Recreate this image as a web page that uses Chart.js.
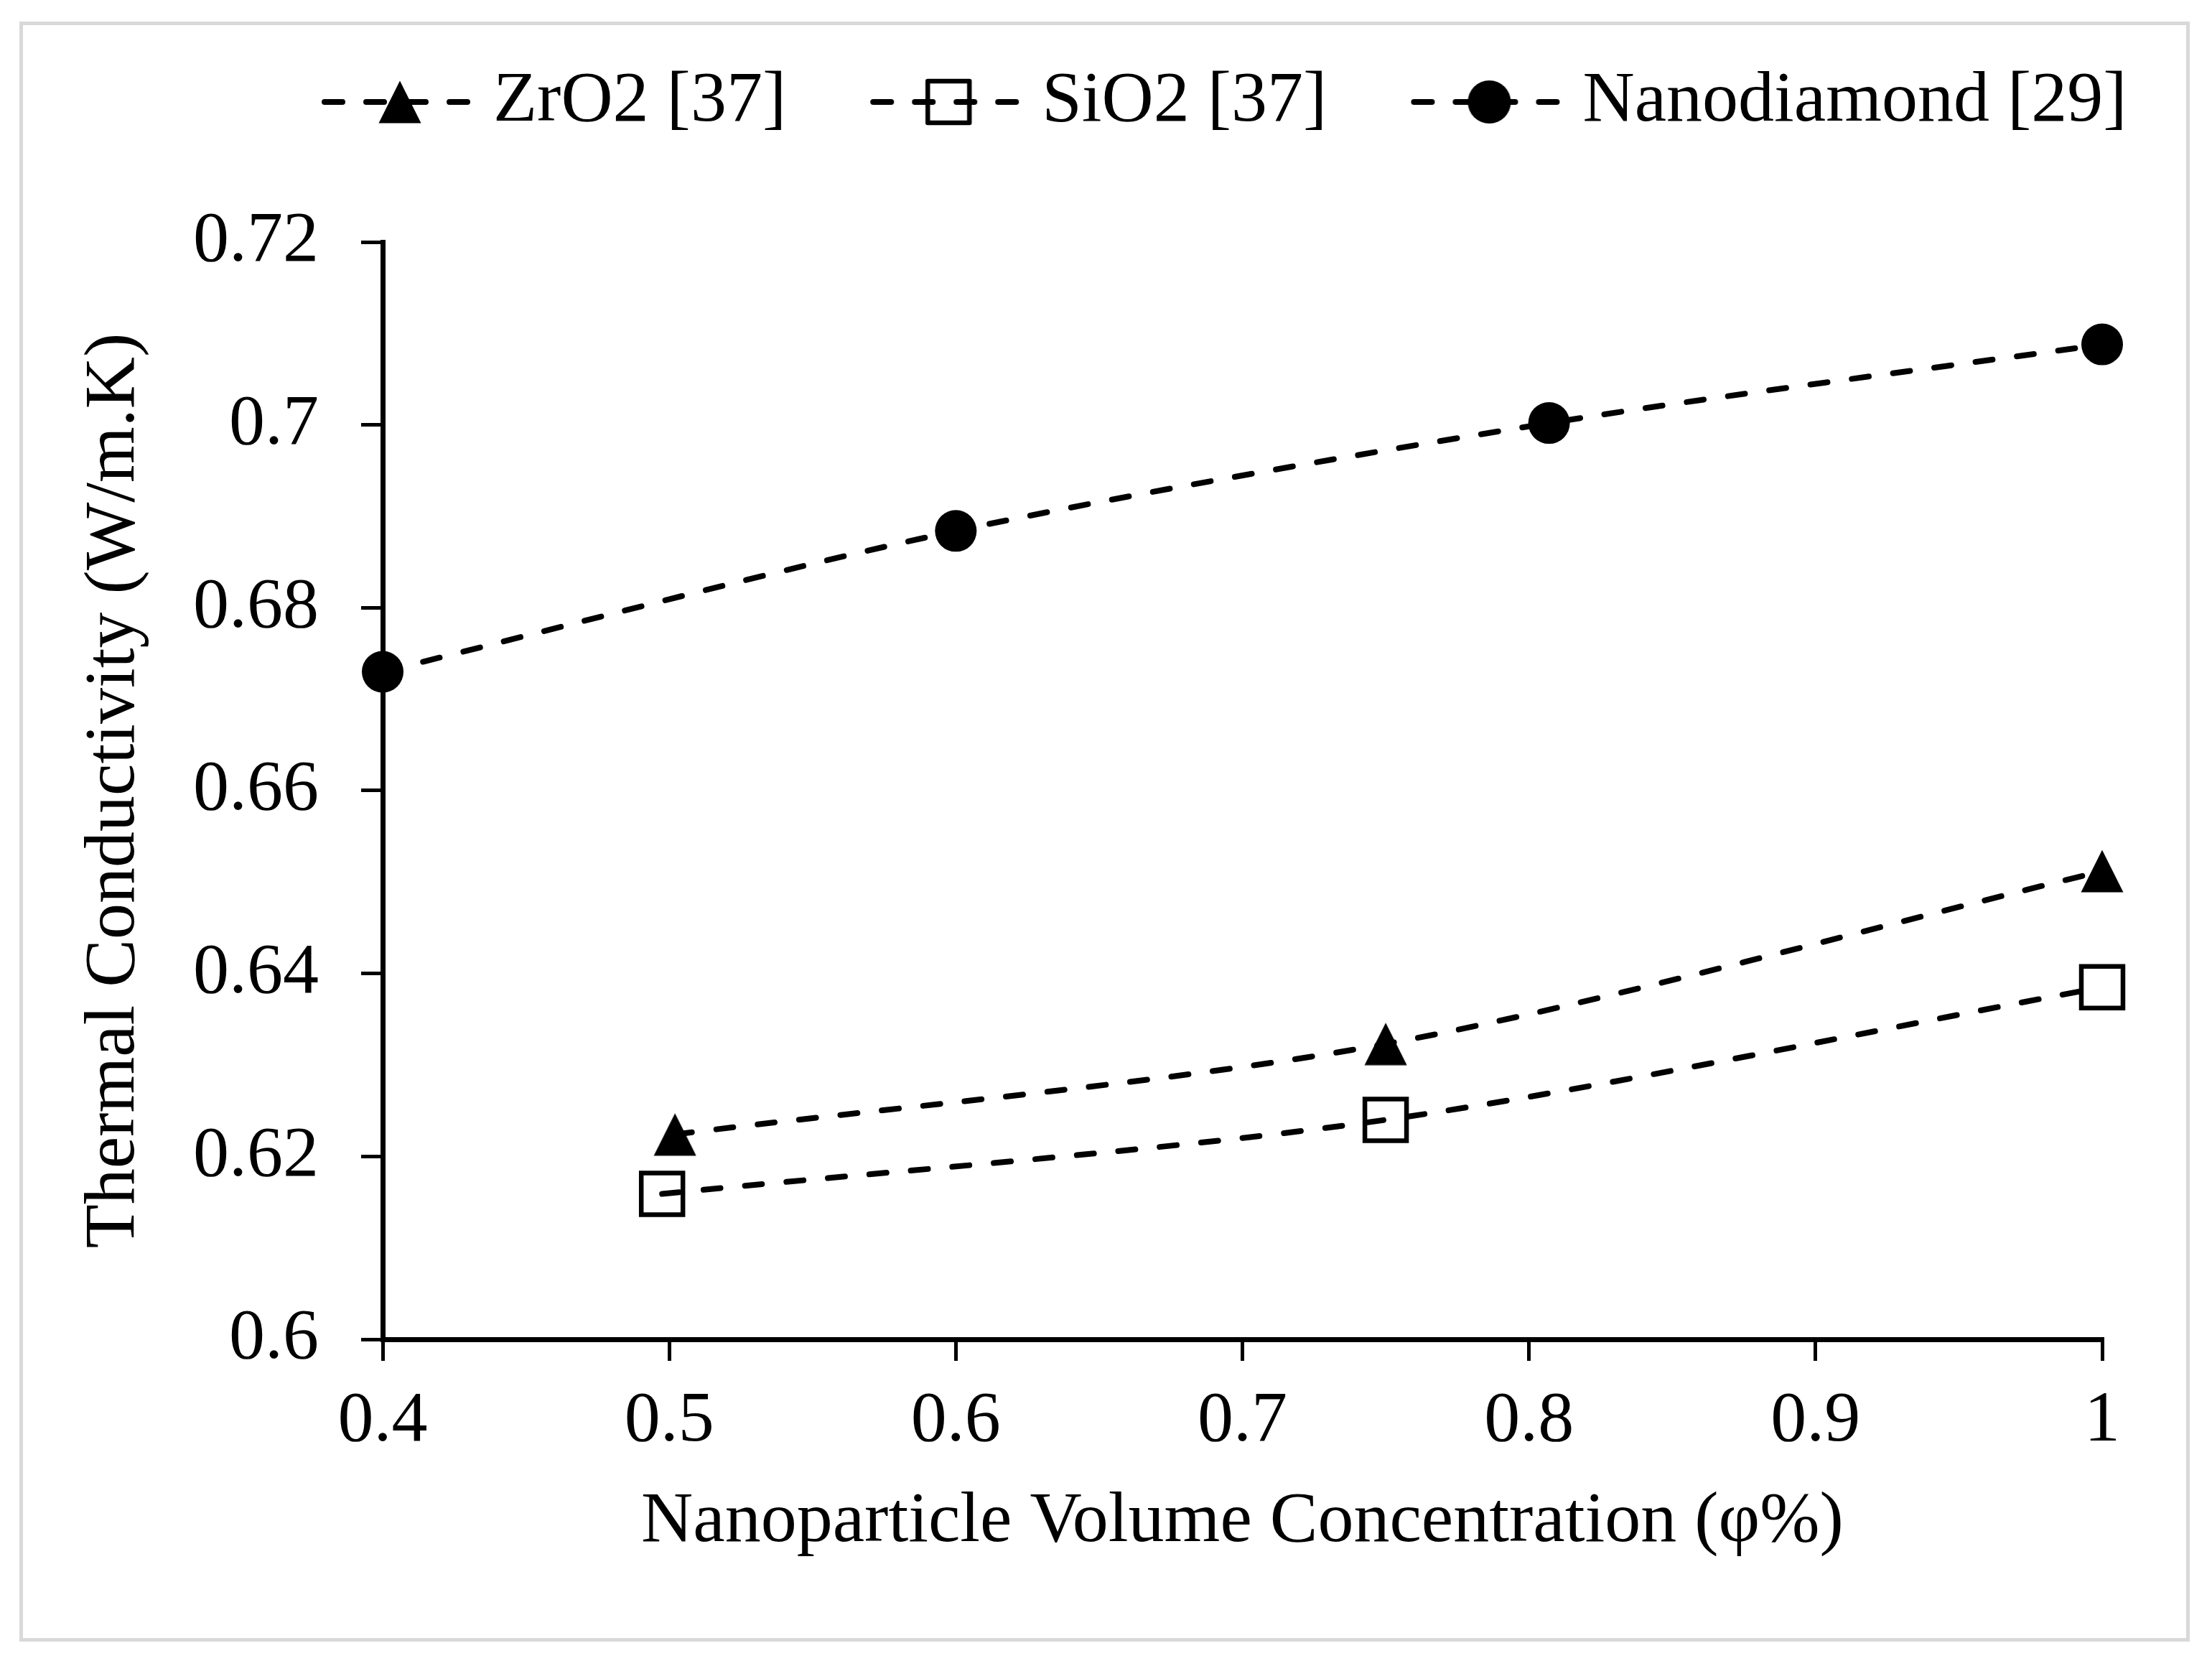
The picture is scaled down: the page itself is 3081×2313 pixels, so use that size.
<!DOCTYPE html>
<html lang="en">
<head>
<meta charset="UTF-8" />
<title>Thermal Conductivity vs Volume Concentration</title>
<style>
    body {
        margin: 0;
        background: #fff;
    }
    #chart {
        position: absolute;
        left: 0;
        top: 0;
    }
    #frame {
        position: absolute;
        left: 27px;
        top: 30px;
        width: 3023px;
        height: 2256px;
        border: 5px solid #d9d9d9;
        box-sizing: border-box;
        pointer-events: none;
    }
</style>
<script src="https://cdn.jsdelivr.net/npm/chart.js"></script>
</head>
<body>
<canvas id="chart" width="3081" height="2313"></canvas>
<div id="frame"></div>
<script>
    // values
    const seriesNames = ["ZrO2 [37]", "SiO2 [37]", "Nanodiamond [29]"];
    const zro2X = [0.502, 0.75, 1.0];
    const zro2Y = [0.6224, 0.6323, 0.6512];
    const sio2X = [0.4975, 0.75, 1.0];
    const sio2Y = [0.6159, 0.624, 0.6385];
    const diamondX = [0.4, 0.6, 0.807, 1.0];
    const diamondY = [0.673, 0.6884, 0.7002, 0.7088];
    const xTicks = [0.4, 0.5, 0.6, 0.7, 0.8, 0.9, 1];
    const yTicks = [0.6, 0.62, 0.64, 0.66, 0.68, 0.7, 0.72];

    const LINE_W = 8;
    const DASH = [24, 34];

    function pts(xs, ys) {
        return xs.map((x, i) => ({ x: x, y: ys[i] }));
    }

    function drawMarker(ctx, kind, cx, cy) {
        ctx.save();
        ctx.fillStyle = "#000";
        ctx.strokeStyle = "#000";
        if (kind === "triangle") {
            ctx.beginPath();
            ctx.moveTo(cx, cy - 29.5);
            ctx.lineTo(cx + 29.5, cy + 29.5);
            ctx.lineTo(cx - 29.5, cy + 29.5);
            ctx.closePath();
            ctx.fill();
        } else if (kind === "square") {
            ctx.lineWidth = 6.5;
            ctx.lineJoin = "round";
            ctx.strokeRect(cx - 29, cy - 29, 58, 58);
        } else {
            ctx.beginPath();
            ctx.arc(cx, cy, 30, 0, Math.PI * 2);
            ctx.fill();
        }
        ctx.restore();
    }

    function triangleImage() {
        const c = document.createElement("canvas");
        c.width = 60;
        c.height = 60;
        drawMarker(c.getContext("2d"), "triangle", 30, 30);
        return c;
    }

    // dashed line with the marker in the middle, blank space on the left
    function legendIcon(kind) {
        const c = document.createElement("canvas");
        c.width = 326;
        c.height = 72;
        const ctx = c.getContext("2d");
        ctx.strokeStyle = "#000";
        ctx.lineWidth = LINE_W;
        ctx.lineCap = "round";
        ctx.setLineDash([25, 33]);
        ctx.beginPath();
        ctx.moveTo(121, 36);
        ctx.lineTo(320, 36);
        ctx.stroke();
        ctx.setLineDash([]);
        drawMarker(ctx, kind, 226, 36);
        return c;
    }

    const legendIcons = [legendIcon("triangle"), legendIcon("square"), legendIcon("circle")];

    const legendSpacing = {
        id: "legendSpacing",
        beforeInit(chart) {
            const legend = chart.legend;
            if (!legend) return;
            const fit = legend.fit;
            legend.fit = function () {
                fit.call(this);
                this.height += 135;
            };
        },
        afterLayout(chart) {
            chart.legend.left += 221;
            chart.legend.right += 221;
        },
    };

    Chart.defaults.font.family = "'Liberation Serif', 'Times New Roman', serif";
    Chart.defaults.font.size = 100;
    Chart.defaults.color = "#000";

    const common = {
        borderColor: "#000",
        borderWidth: LINE_W,
        borderDash: DASH,
        borderCapStyle: "round",
        tension: 0.3,
        fill: false,
        clip: false,
    };

    const axisGrid = {
        display: true,
        drawOnChartArea: false,
        drawTicks: true,
        tickLength: 30,
        lineWidth: 5,
        tickWidth: 5,
        color: "#000",
    };
    const axisBorder = { display: true, color: "#000", width: 7 };

    new Chart(document.getElementById("chart").getContext("2d"), {
        type: "line",
        data: {
            datasets: [
                Object.assign({}, common, {
                    label: seriesNames[0],
                    data: pts(zro2X, zro2Y),
                    pointStyle: triangleImage(),
                    pointRadius: 30,
                    pointHoverRadius: 30,
                }),
                Object.assign({}, common, {
                    label: seriesNames[1],
                    data: pts(sio2X, sio2Y),
                    pointStyle: "rect",
                    pointRadius: 41,
                    pointHoverRadius: 41,
                    pointBorderWidth: 6.5,
                    pointBorderColor: "#000",
                    pointBackgroundColor: "rgba(0,0,0,0)",
                }),
                Object.assign({}, common, {
                    label: seriesNames[2],
                    data: pts(diamondX, diamondY),
                    pointStyle: "circle",
                    pointRadius: 29,
                    pointHoverRadius: 29,
                    pointBorderWidth: 0,
                    pointBackgroundColor: "#000",
                }),
            ],
        },
        options: {
            responsive: false,
            animation: false,
            devicePixelRatio: 1,
            events: [],
            layout: {
                padding: { left: 110, right: 153, top: 72, bottom: 133 },
            },
            plugins: {
                tooltip: { enabled: false },
                legend: {
                    position: "top",
                    align: "start",
                    fullSize: true,
                    labels: {
                        usePointStyle: true,
                        pointStyleWidth: 286,
                        padding: 20,
                        color: "#000",
                        font: { size: 100 },
                        generateLabels(chart) {
                            return Chart.defaults.plugins.legend.labels
                                .generateLabels(chart)
                                .map((item, i) => Object.assign(item, { pointStyle: legendIcons[i] }));
                        },
                    },
                },
            },
            scales: {
                x: {
                    type: "linear",
                    min: 0.4,
                    max: 1,
                    afterBuildTicks: (s) => {
                        s.ticks = xTicks.map((v) => ({ value: v }));
                    },
                    ticks: {
                        padding: 25,
                        color: "#000",
                        autoSkip: false,
                        maxRotation: 0,
                        font: { size: 100 },
                        callback: (v) => String(v),
                    },
                    grid: axisGrid,
                    border: axisBorder,
                    title: {
                        display: true,
                        text: "Nanoparticle Volume Concentration (φ%)",
                        color: "#000",
                        font: { size: 100, lineHeight: 1.2 },
                        padding: { top: -5, bottom: 0 },
                    },
                },
                y: {
                    type: "linear",
                    min: 0.6,
                    max: 0.72,
                    afterBuildTicks: (s) => {
                        s.ticks = yTicks.map((v) => ({ value: v }));
                    },
                    ticks: {
                        padding: 59,
                        color: "#000",
                        autoSkip: false,
                        font: { size: 100 },
                        callback: (v) => String(v),
                    },
                    grid: axisGrid,
                    border: axisBorder,
                    title: {
                        display: true,
                        text: "Thermal Conductivity (W/m.K)",
                        color: "#000",
                        font: { size: 100, lineHeight: 1.0 },
                        padding: 0,
                    },
                },
            },
        },
        plugins: [legendSpacing],
    });
</script>
</body>
</html>
